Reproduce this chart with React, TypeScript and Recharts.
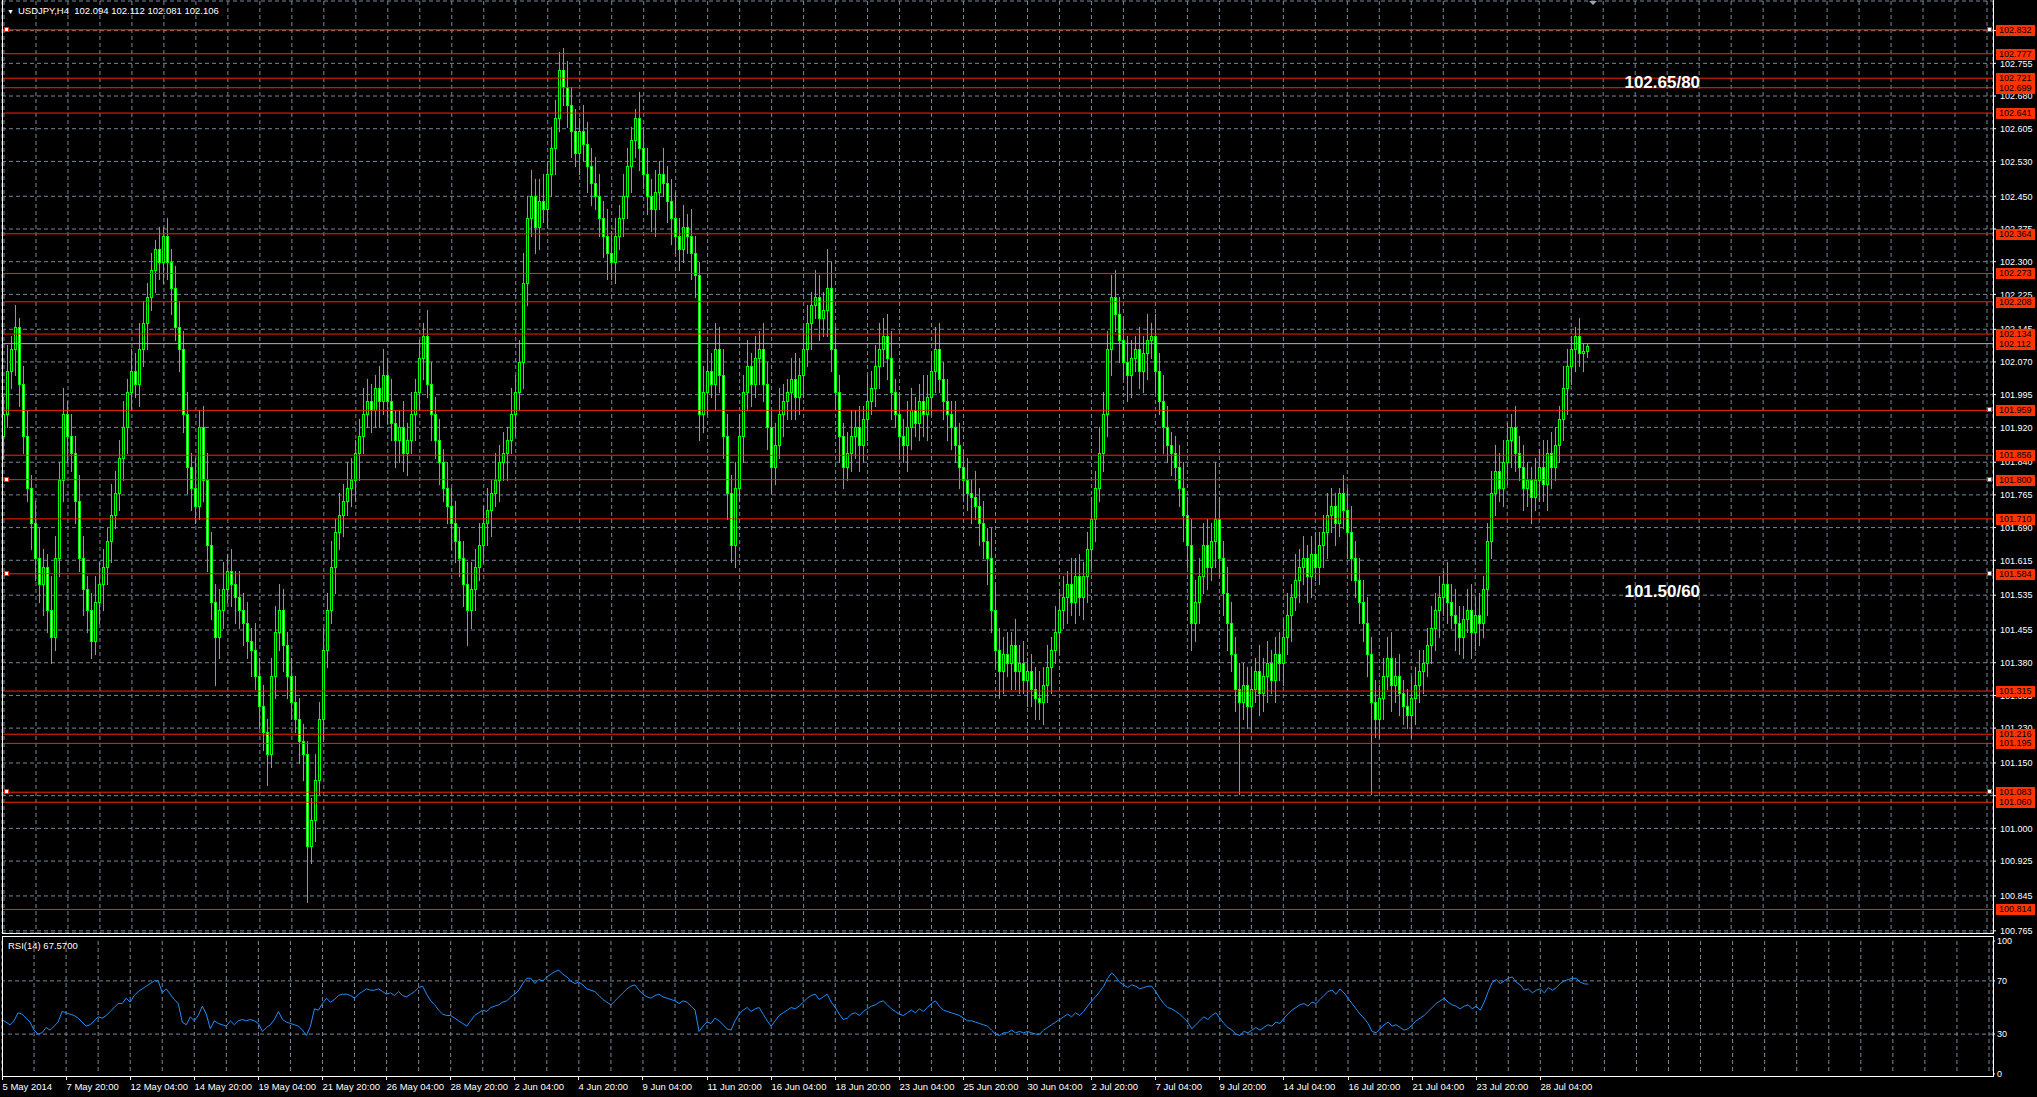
import React from 'react';
import { ComposedChart, Bar, Line, XAxis, YAxis, CartesianGrid, ReferenceLine, ReferenceDot } from 'recharts';

const firstOpen = 101.9;
const closes = [
  101.95,102.05,102.10,102.15,102.02,101.90,101.78,101.70,101.62,101.56,101.60,101.50,101.44,101.62,101.80,101.95,101.90,101.86,101.75,101.62,
  101.55,101.50,101.43,101.52,101.56,101.60,101.66,101.72,101.77,101.85,101.92,102.00,102.05,102.02,102.10,102.16,102.22,102.28,102.33,102.30,
  102.36,102.30,102.24,102.15,102.10,101.95,101.83,101.78,101.74,101.92,101.80,101.65,101.52,101.44,101.50,101.55,101.59,101.56,101.53,101.50,
  101.47,101.43,101.41,101.35,101.28,101.22,101.17,101.35,101.45,101.50,101.42,101.35,101.29,101.25,101.20,101.17,100.96,101.02,101.11,101.25,
  101.41,101.50,101.60,101.68,101.72,101.75,101.78,101.80,101.86,101.90,101.95,101.98,101.96,102.01,101.98,102.04,101.98,101.93,101.89,101.92,
  101.86,101.89,101.95,102.00,102.08,102.13,102.02,101.95,101.89,101.84,101.78,101.74,101.70,101.66,101.62,101.56,101.50,101.55,101.60,101.65,
  101.70,101.73,101.77,101.80,101.84,101.86,101.89,101.95,102.00,102.07,102.25,102.40,102.45,102.38,102.44,102.42,102.50,102.56,102.63,102.74,
  102.70,102.66,102.60,102.55,102.60,102.57,102.52,102.48,102.45,102.40,102.36,102.32,102.30,102.36,102.40,102.45,102.52,102.58,102.63,102.56,
  102.50,102.45,102.42,102.46,102.50,102.48,102.44,102.40,102.36,102.33,102.38,102.36,102.32,102.27,101.95,102.00,102.05,102.02,102.10,102.04,
  101.90,101.77,101.65,101.78,101.90,102.00,102.06,102.02,102.08,102.10,102.02,101.92,101.83,101.88,101.95,101.98,102.00,102.03,101.99,102.04,
  102.10,102.16,102.20,102.22,102.17,102.19,102.24,102.10,102.00,101.90,101.83,101.86,101.90,101.92,101.88,101.94,101.98,102.01,102.06,102.10,
  102.13,102.08,102.00,101.95,101.90,101.88,101.92,101.96,101.93,101.98,101.95,101.99,102.05,102.10,102.03,101.98,101.95,101.92,101.88,101.83,
  101.80,101.77,101.76,101.74,101.70,101.66,101.62,101.50,101.41,101.36,101.40,101.38,101.42,101.36,101.38,101.34,101.36,101.32,101.30,101.29,
  101.33,101.37,101.41,101.45,101.50,101.53,101.56,101.52,101.58,101.53,101.58,101.64,101.71,101.78,101.86,101.95,102.10,102.22,102.18,102.12,
  102.07,102.04,102.08,102.10,102.05,102.09,102.12,102.13,102.05,101.98,101.92,101.88,101.86,101.83,101.78,101.72,101.65,101.47,101.52,101.58,
  101.65,101.60,101.66,101.71,101.62,101.54,101.47,101.40,101.32,101.29,101.33,101.28,101.32,101.36,101.31,101.35,101.38,101.34,101.40,101.38,
  101.44,101.49,101.53,101.57,101.60,101.62,101.58,101.63,101.60,101.65,101.68,101.72,101.74,101.70,101.77,101.73,101.68,101.62,101.57,101.52,
  101.47,101.40,101.29,101.25,101.30,101.35,101.39,101.33,101.35,101.31,101.28,101.26,101.30,101.33,101.36,101.38,101.42,101.46,101.50,101.53,
  101.56,101.52,101.49,101.47,101.44,101.48,101.50,101.45,101.49,101.47,101.55,101.66,101.77,101.82,101.78,101.84,101.89,101.92,101.86,101.83,
  101.78,101.80,101.76,101.80,101.83,101.79,101.86,101.83,101.88,101.94,102.01,102.06,102.10,102.13,102.09,102.094,102.106,
];

// wick lengths above / below the body, in hundredths of a yen
const upWicks = [
  4,6,3,5,2,4,6,3,5,7,4,3,8,5,4,6,3,5,4,6,
  5,3,4,6,5,4,3,7,5,4,6,3,5,4,6,5,3,4,2,5,
  2,4,3,5,6,4,5,3,7,4,5,6,3,4,5,6,4,5,3,6,
  4,5,3,6,4,5,3,4,6,6,5,3,4,6,5,4,3,5,6,4,
  5,4,6,3,5,4,6,5,3,4,6,5,4,3,5,6,4,5,3,4,
  6,4,5,3,4,3,6,5,4,5,3,6,4,5,3,4,5,6,4,5,
  4,5,3,6,4,5,3,6,4,5,7,5,6,4,5,6,3,5,4,4,
  5,6,4,5,3,6,5,4,6,5,4,6,5,4,3,5,4,3,2,6,
  5,6,4,5,3,6,4,5,6,4,5,3,6,4,3,6,5,4,6,5,
  6,5,4,6,5,4,6,3,5,4,6,5,4,5,6,4,3,5,6,4,
  5,4,3,6,5,4,9,6,5,4,3,5,6,4,5,3,6,4,5,6,
  4,5,6,3,5,4,6,5,3,4,6,5,4,5,6,4,5,3,6,5,
  4,5,3,6,4,5,3,7,6,5,4,5,3,6,4,5,3,4,5,6,
  4,5,3,6,4,5,3,6,4,5,3,4,5,4,6,5,4,5,6,4,
  5,6,4,3,5,4,6,3,5,4,6,5,3,4,5,6,4,6,5,4,
  5,6,4,13,5,4,6,5,4,6,5,4,5,3,6,4,5,3,4,5,
  4,5,3,6,4,5,3,4,5,3,4,5,4,3,1,4,5,6,4,5,
  5,6,4,5,3,4,5,6,4,5,3,4,5,4,5,3,4,5,4,5,
  3,5,4,6,4,3,5,6,4,5,3,4,5,6,4,5,4,3,5,4,
  5,4,3,5,4,6,3,5,4,3,5,4,3,2,4,1.8,0.6,
];
const downWicks = [
  5,3,4,6,5,4,3,6,5,4,7,5,6,3,4,5,6,4,5,3,
  6,5,4,3,5,6,4,5,3,4,5,6,4,3,5,4,6,3,5,4,
  5,4,6,3,5,4,6,5,4,3,5,6,4,11,5,4,3,5,6,4,
  5,4,6,3,5,4,7,3,5,4,6,5,4,3,5,6,13,4,5,3,
  5,4,3,6,4,5,3,4,5,6,4,3,5,4,6,3,5,4,6,5,
  4,5,3,6,4,5,3,6,4,5,3,4,6,5,4,5,8,4,5,3,
  4,5,6,3,5,4,6,3,5,4,6,5,4,6,5,3,4,5,6,3,
  4,5,6,3,5,4,6,5,3,4,5,6,4,5,3,4,5,6,4,5,
  3,4,5,6,4,3,5,6,4,5,3,4,6,5,6,4,5,3,6,4,
  5,6,4,5,3,6,4,5,3,6,4,5,6,4,3,5,4,6,5,4,
  5,4,6,3,5,4,6,5,4,6,5,3,4,5,6,4,5,3,4,5,
  4,5,6,3,5,4,6,5,3,4,5,6,4,5,3,4,6,5,4,5,
  5,4,6,3,5,4,6,5,4,6,5,3,6,4,5,3,6,4,5,4,
  5,4,6,3,5,4,6,3,5,4,5,6,4,5,3,4,5,6,4,5,
  4,6,5,3,4,5,6,4,5,3,6,4,5,3,4,6,5,6,4,5,
  4,5,3,6,4,5,6,4,5,21,4,5,6,3,5,4,6,3,5,4,
  5,4,6,3,5,4,6,5,3,4,5,6,4,5,3,4,6,5,4,5,
  4,5,21,4,4,5,3,6,4,5,4,3,5,6,4,5,3,4,5,6,
  4,5,3,6,4,5,3,6,4,5,3,6,4,5,3,4,5,6,4,3,
  5,4,6,3,5,4,6,5,3,4,5,6,4,5,3,4,1.3,
];

const rsiValues = [
  41,39,37,40,46,45,42,39,33,30,31,35,33,36,39,47,46,45,44,42,
  39,36,37,40,43,42,44,47,50,53,53,57,54,59,62,64,66,68,70,70,
  61,64,60,56,53,39,37,43,40,44,51,45,34,40,38,37,36,40,37,40,
  41,40,41,40,38,32,35,37,41,47,41,39,38,37,36,33,29,36,49,48,
  53,57,54,56,59,60,60,59,57,60,62,64,63,63,64,62,60,61,59,62,
  59,58,60,62,65,66,60,55,52,48,45,44,44,42,40,38,36,40,44,46,
  48,47,50,51,52,54,55,58,60,63,68,72,72,68,71,70,73,75,77,78,
  75,73,70,68,69,67,64,63,62,59,56,54,52,55,58,61,64,66,67,63,
  60,58,57,59,60,58,57,56,55,53,55,54,51,48,32,36,39,38,42,40,
  37,34,33,40,45,48,50,47,49,50,45,40,36,40,44,46,48,50,49,51,
  54,57,59,60,56,58,60,54,50,45,41,42,45,46,44,47,49,51,52,54,
  55,52,49,47,45,44,46,48,46,49,47,50,53,55,51,48,47,46,45,44,
  42,40,40,39,38,37,36,33,30,29,31,31,33,31,32,31,32,31,30,30,
  33,35,37,39,41,43,45,43,46,44,47,51,55,58,62,66,72,76,73,69,
  67,65,67,66,64,65,66,66,62,57,53,50,49,47,45,42,39,34,37,40,
  43,41,44,46,42,38,35,33,30,29,32,31,33,35,33,35,37,36,39,38,
  42,45,48,50,52,53,51,54,53,56,59,62,63,60,64,61,57,53,49,45,
  42,38,32,31,34,37,39,36,37,35,33,34,37,40,42,44,47,50,53,55,
  57,54,52,51,49,51,52,49,51,48,54,62,69,71,68,70,72,73,69,67,
  63,64,61,63,64,61,65,63,65,68,70,71,72,72,69,67.8,67.57,
];

const xLabels = ['5 May 2014','7 May 20:00','12 May 04:00','14 May 20:00','19 May 04:00','21 May 20:00','26 May 04:00','28 May 20:00','2 Jun 04:00','4 Jun 20:00','9 Jun 04:00','11 Jun 20:00','16 Jun 04:00','18 Jun 20:00','23 Jun 04:00','25 Jun 20:00','30 Jun 04:00','2 Jul 20:00','7 Jul 04:00','9 Jul 20:00','14 Jul 04:00','16 Jul 20:00','21 Jul 04:00','23 Jul 20:00','28 Jul 04:00'];
const labelEvery = 16;
const gridEvery = 8;
const totalSlots = 498;

const priceTicks = [102.830,102.755,102.680,102.605,102.530,102.450,102.375,102.300,102.225,102.145,102.070,101.995,101.920,101.840,101.765,101.690,101.615,101.535,101.455,101.380,101.305,101.230,101.150,101.075,101.000,100.925,100.845,100.765];
const priceDomain = [100.760, 102.898];
const rsiTicks = [0, 30, 70, 100];
const rsiLevels = [30, 70];

const levels = [102.832,102.777,102.721,102.699,102.641,102.364,102.273,102.208,102.134,102.112,101.959,101.856,101.800,101.710,101.584,101.315,101.216,101.195,101.083,101.060,100.814];
const leftMarked = [102.832, 101.800, 101.584, 101.083];
const rightMarked = [102.832, 101.959, 101.800, 101.584, 101.083];
const bidPrice = 102.112;

const notes = [
  { text: '102.65/80', slot: 405, price: 102.712 },
  { text: '101.50/60', slot: 405, price: 101.545 },
];

const title = 'USDJPY,H4  102.094 102.112 102.081 102.106';
const rsiTitle = 'RSI(14) 67.5700';

const FONT = '"Liberation Sans", Arial, sans-serif';
const GRID = '#778899';
const LEVEL_RED = '#ff2200';
const TAG_RED = '#ff3300';
const CANDLE = '#00ff00';

const rows: any[] = [];
for (let i = 0; i < totalSlots; i++) {
  if (i < closes.length) {
    const o = i === 0 ? firstOpen : closes[i - 1];
    const c = closes[i];
    const h = Math.max(o, c) + upWicks[i] / 100;
    const l = Math.min(o, c) - downWicks[i] / 100;
    rows.push({ i, o, h, l, c, range: [l, h], rsi: rsiValues[i] });
  } else {
    rows.push({ i });
  }
}

const Candle = (props: any) => {
  const { x, y, width, height, payload } = props;
  if (!payload || payload.c == null || x == null || y == null) return <g />;
  const top = Math.min(y, y + height);
  const bot = Math.max(y, y + height);
  const span = payload.h - payload.l;
  const k = span > 0 ? (bot - top) / span : 0;
  const yo = top + (payload.h - payload.o) * k;
  const yc = top + (payload.h - payload.c) * k;
  const cx = Math.floor(x + width / 2) + 0.5;
  const bTop = Math.round(Math.min(yo, yc)) + 0.5;
  const bBot = Math.round(Math.max(yo, yc)) + 0.5;
  const bull = payload.c >= payload.o;
  return (
    <g>
      <line x1={cx} x2={cx} y1={Math.round(top)} y2={Math.round(bot) + 1} stroke={CANDLE} strokeWidth={1} />
      {bBot - bTop < 1 ? (
        <line x1={cx - 1.5} x2={cx + 1.5} y1={bTop} y2={bTop} stroke={CANDLE} strokeWidth={1} />
      ) : (
        <rect x={cx - 1} y={bTop} width={2} height={bBot - bTop} fill={bull ? '#000' : '#fff'} stroke={CANDLE} strokeWidth={1} />
      )}
    </g>
  );
};

const LevelTag = (props: any) => {
  const { viewBox, level } = props;
  if (!viewBox) return null;
  const { x, y, width } = viewBox;
  const right = x + width;
  const yy = Math.round(y);
  return (
    <g>
      {leftMarked.includes(level) && <rect x={x + 2.5} y={yy - 2.5} width={4} height={4} fill="#fff" stroke={LEVEL_RED} strokeWidth={1} />}
      {rightMarked.includes(level) && <rect x={right - 5.5} y={yy - 2.5} width={4} height={4} fill="#fff" stroke={LEVEL_RED} strokeWidth={1} />}
      <rect x={right + 3} y={yy - 5} width={39} height={11} fill={TAG_RED} />
      <text x={right + 6} y={yy} dy="0.36em" fontSize={9} fill="#000" fontFamily={FONT}>{level.toFixed(3)}</text>
    </g>
  );
};

const NoteLabel = (props: any) => {
  const { viewBox, text } = props;
  if (!viewBox) return null;
  return (
    <text x={viewBox.x} y={viewBox.y} dy="0.36em" fontSize={17} fontWeight="bold" fill="#fff" fontFamily={FONT}>{text}</text>
  );
};

const PriceTick = (props: any) => {
  const { x, y, payload } = props;
  return <text x={x} y={y} dy="0.36em" fontSize={9} fill="#fff" fontFamily={FONT}>{Number(payload.value).toFixed(3)}</text>;
};

const RsiTick = (props: any) => {
  const { x, y, payload } = props;
  return <text x={x} y={y} dy="0.36em" fontSize={9} fill="#fff" fontFamily={FONT}>{payload.value}</text>;
};

const TimeTick = (props: any) => {
  const { x, y, payload } = props;
  const idx = Number(payload.value);
  if (idx % labelEvery !== 0) return <g />;
  const label = xLabels[idx / labelEvery];
  if (!label) return <g />;
  const px = Math.floor(x) + 0.5;
  return (
    <g>
      <line x1={px} x2={px} y1={y + 2} y2={y + 6} stroke="#fff" strokeWidth={1} />
      <text x={px} y={y + 16} fontSize={9.5} fill="#fff" fontFamily={FONT}>{label}</text>
    </g>
  );
};

const mainMargin = { top: 1, right: 0, bottom: 2, left: 2 };

export default function App() {
  return (
    <div style={{ position: 'absolute', left: 0, top: 0, width: 2037, height: 1097, background: '#000', overflow: 'hidden' }}>
      <div style={{ position: 'absolute', left: 0, top: 0 }}>
        <ComposedChart width={2037} height={935} data={rows} margin={mainMargin}>
          <CartesianGrid stroke={GRID} strokeDasharray="4 3" />
          <XAxis dataKey="i" type="category" hide interval={gridEvery - 1} />
          <YAxis
            orientation="right"
            type="number"
            domain={priceDomain}
            allowDataOverflow
            ticks={priceTicks}
            interval={0}
            width={44}
            axisLine={false}
            tickLine={{ stroke: '#fff' }}
            tickSize={3}
            tickMargin={4}
            tick={<PriceTick />}
          />
          <Bar dataKey="range" shape={<Candle />} isAnimationActive={false} />
        </ComposedChart>
      </div>
      <div style={{ position: 'absolute', left: 0, top: 0 }}>
        <ComposedChart width={2037} height={935} data={rows} margin={mainMargin}>
          <XAxis dataKey="i" type="category" hide />
          <YAxis
            orientation="right"
            type="number"
            domain={priceDomain}
            allowDataOverflow
            ticks={priceTicks}
            width={44}
            axisLine={false}
            tickLine={false}
            tick={false}
          />
          {levels.map((lv) => (
            <ReferenceLine
              key={lv}
              y={lv}
              stroke={lv === bidPrice ? '#a9b4c2' : LEVEL_RED}
              strokeWidth={1}
              label={<LevelTag level={lv} />}
            />
          ))}
          {notes.map((n) => (
            <ReferenceDot key={n.text} x={n.slot} y={n.price} r={0} fill="none" stroke="none" label={<NoteLabel text={n.text} />} />
          ))}
        </ComposedChart>
      </div>
      <div style={{ position: 'absolute', left: 0, top: 935 }}>
        <ComposedChart width={2037} height={162} data={rows} margin={{ top: 6, right: 0, bottom: 0, left: 2 }}>
          <CartesianGrid stroke={GRID} strokeDasharray="4 3" horizontal={false} />
          <XAxis
            dataKey="i"
            type="category"
            interval={gridEvery - 1}
            height={23}
            axisLine={false}
            tickLine={false}
            tickSize={0}
            tickMargin={0}
            tick={<TimeTick />}
          />
          <YAxis
            orientation="right"
            type="number"
            domain={[0, 100]}
            ticks={rsiTicks}
            interval={0}
            width={44}
            axisLine={false}
            tickLine={{ stroke: '#fff' }}
            tickSize={2}
            tickMargin={2}
            tick={<RsiTick />}
          />
          {rsiLevels.map((v) => (
            <ReferenceLine key={v} y={v} stroke={GRID} strokeDasharray="4 3" />
          ))}
          <Line dataKey="rsi" stroke="#1e90ff" strokeWidth={1} dot={false} isAnimationActive={false} connectNulls={false} />
        </ComposedChart>
      </div>
      <div style={{ position: 'absolute', left: 2, top: 0, width: 1992, height: 934, boxSizing: 'border-box', borderLeft: '1px solid #fff', borderRight: '1px solid #fff', borderBottom: '1px solid #fff', pointerEvents: 'none' }} />
      <div style={{ position: 'absolute', left: 2, top: 936, width: 1992, height: 141, boxSizing: 'border-box', border: '1px solid #fff', pointerEvents: 'none' }} />
      <div style={{ position: 'absolute', left: 7, top: 5, color: '#fff', fontFamily: FONT, fontSize: 9.5, whiteSpace: 'pre', lineHeight: '12px' }}>
        <span style={{ fontSize: 7, marginRight: 4 }}>▼</span>{title}
      </div>
      <div style={{ position: 'absolute', left: 8, top: 940, color: '#fff', fontFamily: FONT, fontSize: 9.5, whiteSpace: 'pre', lineHeight: '12px' }}>
        {rsiTitle}
      </div>
      <div style={{ position: 'absolute', left: 1589, top: 1, width: 0, height: 0, borderLeft: '4px solid transparent', borderRight: '4px solid transparent', borderTop: '4px solid #9aa4b0' }} />
    </div>
  );
}
